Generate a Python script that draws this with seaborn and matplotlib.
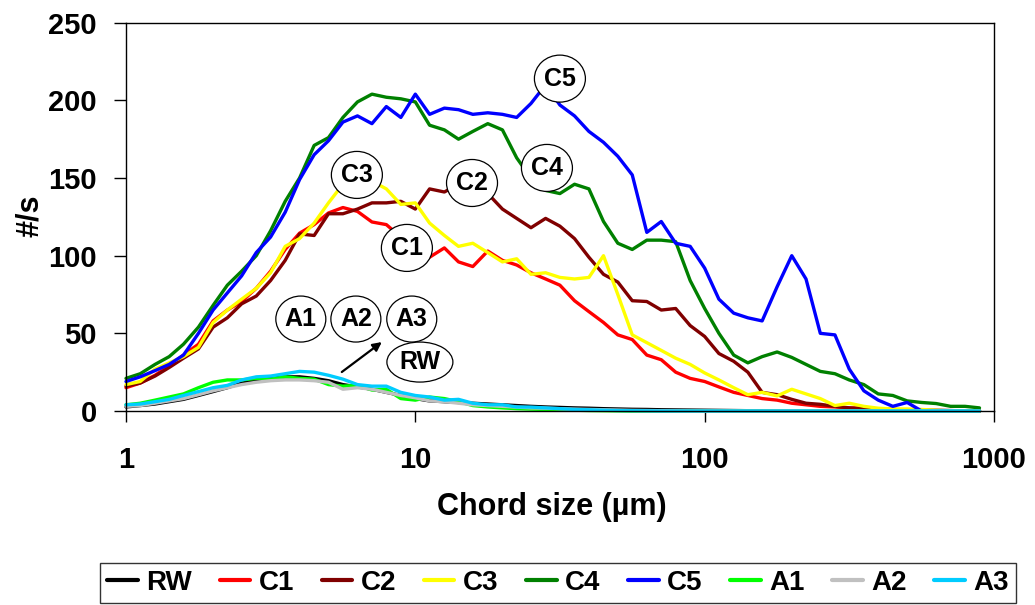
import matplotlib
matplotlib.use('Agg')
import matplotlib.pyplot as plt
import pandas as pd
import seaborn as sns
from matplotlib import font_manager
from matplotlib.patches import Ellipse

# ---------------- data ----------------
sizes = [1.0, 1.12, 1.26, 1.41, 1.58, 1.78, 2.0, 2.24, 2.51, 2.82,
         3.16, 3.55, 3.98, 4.47, 5.01, 5.62, 6.31, 7.08, 7.94, 8.91,
         10.0, 11.2, 12.6, 14.1, 15.8, 17.8, 20.0, 22.4, 25.1, 28.2,
         31.6, 35.5, 39.8, 44.7, 50.1, 56.2, 63.1, 70.8, 79.4, 89.1,
         100, 112, 126, 141, 158, 178, 200, 224, 251, 282,
         316, 355, 398, 447, 501, 562, 631, 708, 794, 891]

rw = [2.6, 3.5, 4.5, 6, 7.5, 10, 12.5, 15, 18, 19.5,
      21, 22, 22, 21, 19.5, 17, 15.5, 14, 12, 10,
      8, 6.5, 6, 5.5, 5, 4.5, 4, 3.5, 3, 2.6,
      2.3, 2, 1.8, 1.5, 1.3, 1.1, 1, 0.8, 0.7, 0.6,
      0.5, 0.4, 0.3, 0.2, 0.2, 0.1, 0.1, 0, 0, 0,
      0, 0, 0, 0, 0, 0, 0, 0, 0, 0]
c1 = [15, 18, 23, 29, 36, 43, 58, 65, 70.5, 79,
      90, 104, 114.5, 120, 127.5, 131, 128.5, 121.7, 120, 112,
      104, 99, 105, 96, 93, 103, 97, 94, 89, 85,
      81, 71, 64, 57, 49, 46, 36, 33, 25, 21,
      19, 15.5, 12, 10, 8, 7, 5, 4, 3, 2.6,
      2, 1.8, 1.3, 1, 0.5, 0, 0, 0, 0, 0]
c2 = [16, 18, 22.5, 28, 34, 40, 54, 60, 69, 74,
      84, 97, 114, 113, 127, 127, 130, 134, 134, 135,
      130, 143, 141, 146, 146, 140, 130, 124, 118, 124,
      119, 111, 99, 88, 83, 71, 70.5, 65, 66, 55,
      48, 37, 32, 25, 12, 10.5, 7.5, 5, 4.3, 3,
      2, 1.5, 1.2, 1, 0.8, 0.6, 0.5, 0.3, 0, 0]
c3 = [17, 19, 27, 31, 35, 41, 57, 65, 72, 79,
      89, 106, 111, 121, 134, 146, 149, 148, 143, 133,
      134, 121, 113, 106, 108, 102, 96, 98, 88, 89,
      86, 85, 86, 100, 75, 49, 44, 39, 34, 30,
      24.5, 20, 15, 10.5, 12, 9.7, 14, 11, 8, 3.5,
      5, 3, 1.8, 1.3, 1.3, 1, 0.5, 0, 0, 0]
c4 = [21, 24, 30, 35, 43, 54, 68, 81, 90, 100,
      116, 135, 150, 171, 176, 189, 199, 204, 202, 201,
      199, 184, 181, 175, 180, 185, 181, 163, 150, 142,
      140, 146, 143, 122, 108, 104, 110, 110, 109, 84,
      66, 50, 36, 31, 35, 38, 34.5, 30, 25.5, 24,
      20, 17, 11, 10, 6.5, 5.5, 4.8, 3, 3, 2]
c5 = [19, 22, 26, 30, 36, 50, 65, 76, 87, 102,
      112, 128, 149, 165, 174, 186, 190, 185, 196, 189,
      204, 191, 195, 194, 191, 192, 191, 189, 198, 210,
      197, 190, 180, 173, 164, 152, 115, 122, 108, 106,
      92, 72, 63, 60, 58, 80, 100, 85, 50, 49,
      27, 13, 7, 3, 5.5, 0, 0, 0, 0, 0]
a1 = [4, 5, 7, 9, 11, 15, 18.5, 20, 20, 21,
      20.5, 22, 21, 20.5, 17, 16, 16.5, 13.5, 14, 8,
      7, 9, 8, 6, 3.5, 2.6, 2, 1.5, 1.2, 1,
      0.8, 0.5, 0.3, 0.2, 0.1, 0, 0, 0, 0, 0,
      0, 0, 0, 0, 0, 0, 0, 0, 0, 0,
      0, 0, 0, 0, 0, 0, 0, 0, 0, 0]
a2 = [3, 3.5, 5, 6.5, 8, 10.5, 13, 15, 17, 18.5,
      19.5, 20, 20, 19.5, 18.5, 14, 15, 14, 12, 10,
      8.5, 6.5, 6, 5, 4, 3.5, 3, 2.5, 2, 1.8,
      1.5, 1.2, 1, 0.8, 0.6, 0.4, 0.3, 0.2, 0.1, 0,
      0, 0, 0, 0, 0, 0, 0, 0, 0, 0,
      0, 0, 0, 0, 0, 0, 0, 0, 0, 0]
a3 = [4, 4.5, 6, 7.5, 10, 12.5, 15, 16.5, 20, 22,
      22.5, 24, 25.5, 25, 23, 20.5, 17, 16, 16, 12,
      10, 9, 7, 7.5, 5, 4, 4, 2.6, 2.5, 2,
      1.5, 1, 0.8, 0.5, 0.3, 0.2, 0.1, 0, 0, 0,
      0, 0, 0, 0, 0, 0, 0, 0, 0, 0,
      0, 0, 0, 0, 0, 0, 0, 0, 0, 0]

series_names = ['RW', 'C1', 'C2', 'C3', 'C4', 'C5', 'A1', 'A2', 'A3']
series_values = [rw, c1, c2, c3, c4, c5, a1, a2, a3]
series_colors = ['#000000', '#FF0000', '#800000', '#FFFF00', '#008000',
                 '#0000FF', '#00FF00', '#C0C0C0', '#00CCFF']

# label bubbles: text and position in data units
bubble_labels = ['C5', 'C4', 'C3', 'C2', 'C1', 'A1', 'A2', 'A3', 'RW']
bubble_x = [31.6, 28.5, 6.28, 15.7, 9.35, 4.02, 6.23, 9.72, 10.37]
bubble_y = [214, 156.5, 152, 146.8, 105, 59.2, 59.2, 59.2, 31.5]
# bubble outline size in pixels (style)
bubble_w = [51, 51, 51, 51, 51, 50, 50, 50, 66]
bubble_h = [47, 47, 47, 47, 47, 46, 46, 46, 40]

x_ticks = [1, 10, 100, 1000]
x_tick_labels = ['1', '10', '100', '1000']
y_ticks = [0, 50, 100, 150, 200, 250]

# ---------------- build long table ----------------
rows = []
for name, vals in zip(series_names, series_values):
    for s, v in zip(sizes, vals):
        rows.append((name, s, v))
df = pd.DataFrame(rows, columns=['series', 'size', 'rate'])

# ---------------- styling ----------------
sns.set_style('ticks')
avail = {f.name for f in font_manager.fontManager.ttflist}
main_font = 'Liberation Sans' if 'Liberation Sans' in avail else 'DejaVu Sans'
plt.rcParams['font.family'] = [main_font, 'DejaVu Sans']
plt.rcParams['font.weight'] = 'bold'
plt.rcParams['axes.linewidth'] = 1.0
plt.rcParams['text.color'] = 'black'
plt.rcParams['axes.labelcolor'] = 'black'
plt.rcParams['xtick.color'] = 'black'
plt.rcParams['ytick.color'] = 'black'

FIG_W, FIG_H = 1035, 605
AX_L, AX_R, AX_T, AX_B = 126, 994, 22.7, 411
fig = plt.figure(figsize=(FIG_W / 100, FIG_H / 100), dpi=100)
fig.patch.set_facecolor('white')
ax = fig.add_axes([AX_L / FIG_W, 1 - AX_B / FIG_H,
                   (AX_R - AX_L) / FIG_W, (AX_B - AX_T) / FIG_H])
ax_w_px = AX_R - AX_L
ax_h_px = AX_B - AX_T

palette = dict(zip(series_names, series_colors))
sns.lineplot(data=df, x='size', y='rate', hue='series', hue_order=series_names,
             palette=palette, linewidth=2.4, estimator=None, sort=False,
             ax=ax, legend=True)
for ln in ax.get_lines():
    ln.set_clip_on(False)
    ln.set_solid_joinstyle('round')

ax.set_xscale('log')
ax.set_xlim(1, 1000)
ax.set_ylim(0, 250)
ax.set_xticks(x_ticks)
ax.set_xticklabels(x_tick_labels)
ax.set_yticks(y_ticks)
ax.minorticks_off()
ax.tick_params(axis='x', direction='out', length=8, width=1, pad=17,
               labelsize=21, colors='black')
ax.tick_params(axis='y', direction='out', length=9, width=1, pad=12,
               labelsize=21, colors='black')
for lab in ax.get_xticklabels() + ax.get_yticklabels():
    lab.set_fontweight('bold')
    lab.set_color('black')
for sp in ax.spines.values():
    sp.set_visible(True)
    sp.set_color('black')
    sp.set_linewidth(1.0)

ax.set_xlabel('Chord size (\u00b5m)', fontsize=22, fontweight='bold', color='black')
ax.set_ylabel('#/s', fontsize=22, fontweight='bold', color='black')
ax.xaxis.set_label_coords((552 - AX_L) / ax_w_px, (AX_B - 507) / ax_h_px)
ax.xaxis.label.set_verticalalignment('center')
ax.yaxis.set_label_coords((30 - AX_L) / ax_w_px, (AX_B - 216) / ax_h_px)
ax.yaxis.label.set_verticalalignment('center')

# bubble labels: outline ellipse sized in pixels, text on top
to_axes = ax.transAxes.inverted()
for t, bx, by, bw, bh in zip(bubble_labels, bubble_x, bubble_y, bubble_w, bubble_h):
    cx, cy = to_axes.transform(ax.transData.transform((bx, by)))
    ax.add_patch(Ellipse((cx, cy), bw / ax_w_px, bh / ax_h_px,
                         transform=ax.transAxes, facecolor='white',
                         edgecolor='black', linewidth=0.9, zorder=5,
                         clip_on=False))
    ax.text(bx, by, t, ha='center', va='center', fontsize=18,
            fontweight='bold', color='black', zorder=6)

ax.annotate('', xy=(7.66, 44.4), xytext=(5.57, 25.1),
            arrowprops=dict(arrowstyle='-|>', color='black', lw=1.6,
                            mutation_scale=13, shrinkA=0, shrinkB=0),
            zorder=6)

# legend
sns.move_legend(ax, loc='center',
                bbox_to_anchor=((558 - AX_L) / ax_w_px, (AX_B - 583) / ax_h_px),
                ncol=9, title=None, frameon=True, fontsize=20,
                handlelength=1.1, handletextpad=0.3, columnspacing=1.0,
                borderpad=0.25, fancybox=False, edgecolor='black')
leg = ax.get_legend()
leg.get_frame().set_linewidth(1.0)
for txt in leg.get_texts():
    txt.set_fontweight('bold')
    txt.set_color('black')
for h in leg.get_lines():
    h.set_linewidth(3)

fig.savefig('out.png', dpi=100, facecolor='white')
